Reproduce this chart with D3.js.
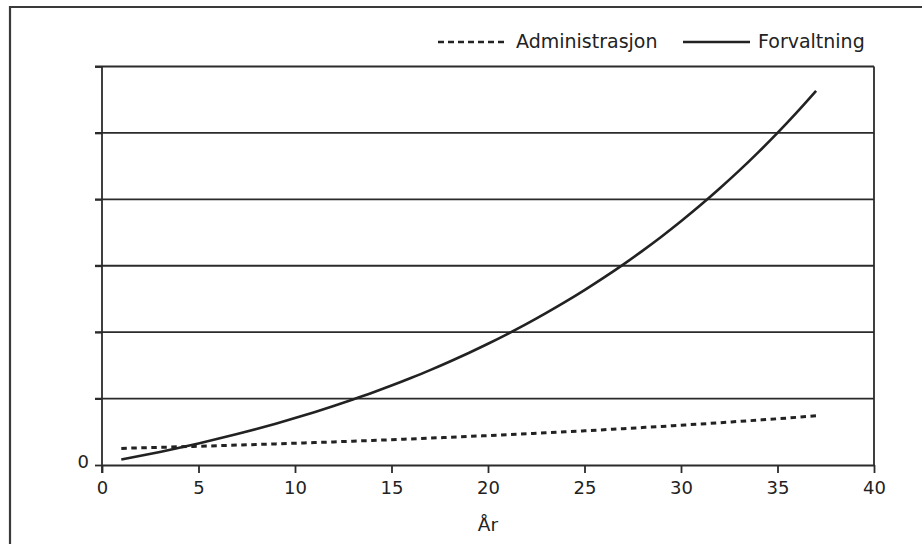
<!DOCTYPE html>
<html>
<head>
<meta charset="utf-8">
<script src="https://cdn.jsdelivr.net/npm/d3@7"></script>
<style>
  html, body { margin: 0; padding: 0; background: #fff; }
  svg { display: block; }
  text { font-family: "DejaVu Sans", "Noto Sans", sans-serif; fill: #222; }
</style>
</head>
<body>
<svg id="chart" width="922" height="544"></svg>
<script>
// ---- data ----
const years = d3.range(1, 38);
const administrasjon = [0.250,0.258,0.266,0.274,0.282,0.291,0.300,0.309,0.318,0.328,0.338,0.348,0.359,0.370,0.381,0.393,0.405,0.417,0.430,0.443,0.457,0.471,0.485,0.500,0.515,0.531,0.547,0.564,0.581,0.599,0.617,0.636,0.656,0.676,0.696,0.718,0.740];
const forvaltning = [0.082,0.138,0.197,0.260,0.325,0.394,0.466,0.542,0.622,0.707,0.795,0.888,0.986,1.088,1.196,1.310,1.429,1.555,1.687,1.825,1.971,2.124,2.286,2.455,2.633,2.820,3.017,3.224,3.441,3.670,3.910,4.163,4.428,4.708,5.001,5.310,5.634];
const xTicks = [0,5,10,15,20,25,30,35,40];
const yTicks = [0,1,2,3,4,5,6];
const yTickLabels = ["0","","","","","",""];
const seriesNames = ["Administrasjon", "Forvaltning"];
const xTitle = "År";

const svg = d3.select("#chart");
const ink = "#2b2b2b";
const font = "'DejaVu Sans', sans-serif";

// outer frame (only top and left visible in the crop)
svg.append("path")
  .attr("d", "M10,560 L10,7 L940,7")
  .attr("fill", "none").attr("stroke", "#3a3a3a").attr("stroke-width", 2.2);

const x = d3.scaleLinear().domain([0, 40]).range([102, 874]);
const y = d3.scaleLinear().domain([0, 6]).range([465, 66.5]);

// horizontal grid lines
svg.append("g").selectAll("line").data(yTicks.slice(1)).join("line")
  .attr("x1", x(0) - 7).attr("x2", x(40))
  .attr("y1", d => y(d)).attr("y2", d => y(d))
  .attr("stroke", ink).attr("stroke-width", 1.8);

// right border
svg.append("line")
  .attr("x1", x(40)).attr("x2", x(40)).attr("y1", y(6)).attr("y2", y(0))
  .attr("stroke", ink).attr("stroke-width", 1.8);

// x axis
const xAxis = svg.append("g").attr("transform", `translate(0,${y(0)})`)
  .call(d3.axisBottom(x).tickValues(xTicks).tickSize(8).tickSizeOuter(0).tickPadding(8));
xAxis.select(".domain").attr("stroke", ink).attr("stroke-width", 1.8);
xAxis.selectAll(".tick line").attr("stroke", ink).attr("stroke-width", 1.8);
xAxis.selectAll(".tick text").attr("font-size", 18).attr("fill", "#222")
  .attr("font-family", font);

// y axis
const yAxis = svg.append("g").attr("transform", `translate(${x(0)},0)`)
  .call(d3.axisLeft(y).tickValues(yTicks).tickFormat((d, i) => yTickLabels[i]).tickSize(7).tickSizeOuter(0).tickPadding(6));
yAxis.select(".domain").attr("stroke", ink).attr("stroke-width", 1.8);
yAxis.selectAll(".tick line").attr("stroke", ink).attr("stroke-width", 1.8);
yAxis.selectAll(".tick text").attr("font-size", 18).attr("fill", "#222")
  .attr("font-family", font).attr("dy", "0.15em");
yAxis.select(".domain").attr("d", `M0,${y(6)}V${y(0) + 8}`);

// lines
const line = d3.line().x((d, i) => x(years[i])).y(d => y(d)).curve(d3.curveMonotoneX);
svg.append("path").datum(administrasjon)
  .attr("d", line).attr("fill", "none").attr("stroke", "#222")
  .attr("stroke-width", 3).attr("stroke-dasharray", "5.5,4.5");
svg.append("path").datum(forvaltning)
  .attr("d", line).attr("fill", "none").attr("stroke", "#222")
  .attr("stroke-width", 2.6);

// x title
svg.append("text").attr("x", 488).attr("y", 531).attr("text-anchor", "middle")
  .attr("font-size", 18.5).text(xTitle);

// legend
const lg = svg.append("g");
lg.append("line").attr("x1", 438).attr("x2", 506).attr("y1", 42).attr("y2", 42)
  .attr("stroke", "#222").attr("stroke-width", 2.4).attr("stroke-dasharray", "6,4");
lg.append("text").attr("x", 516).attr("y", 48).attr("font-size", 19).text(seriesNames[0]);
lg.append("line").attr("x1", 683).attr("x2", 750).attr("y1", 42).attr("y2", 42)
  .attr("stroke", "#222").attr("stroke-width", 2.4);
lg.append("text").attr("x", 758).attr("y", 48).attr("font-size", 19).text(seriesNames[1]);
</script>
</body>
</html>
